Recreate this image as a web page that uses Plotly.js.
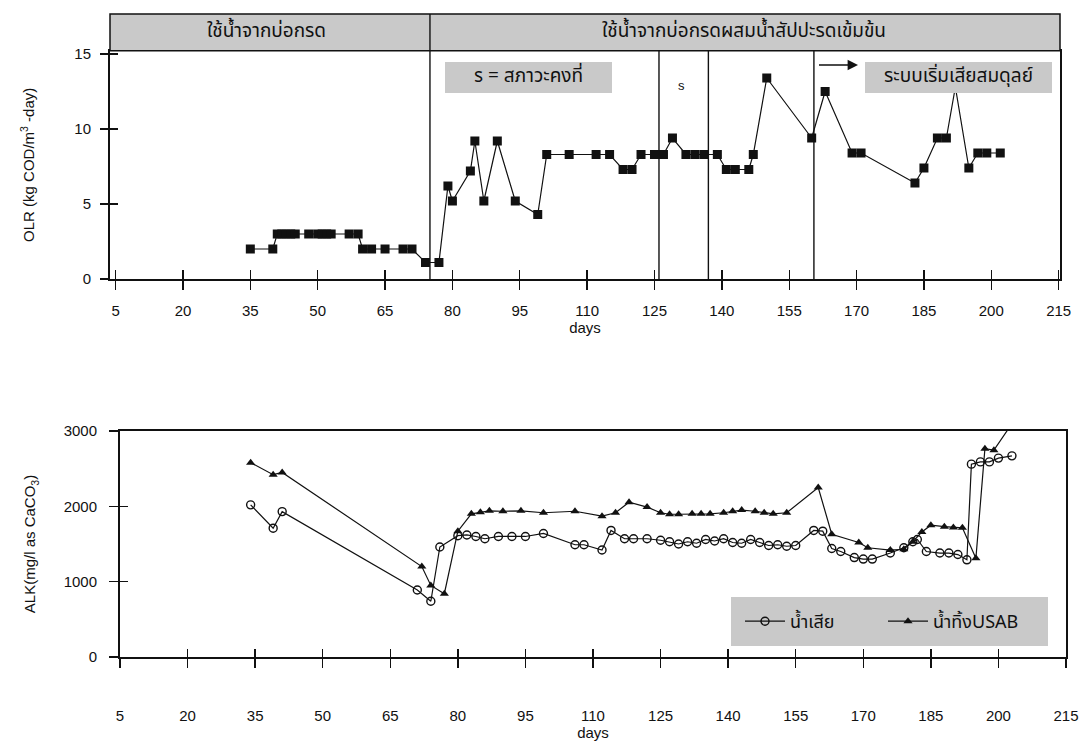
<!DOCTYPE html>
<html>
<head>
<meta charset="utf-8">
<script src="https://cdn.plot.ly/plotly-3.0.1.min.js"></script>
<style>
  html, body { margin: 0; padding: 0; background: #ffffff; overflow: hidden; }
  #chart { width: 1086px; height: 742px; }
</style>
</head>
<body>
<div id="chart"></div>
<script>
// ---- data ----
const dayTicks = [5, 20, 35, 50, 65, 80, 95, 110, 125, 140, 155, 170, 185, 200, 215];

// organic loading rate, kg COD/m3-day
const olrDays = [35, 40, 41, 42, 43, 44, 45, 48, 50, 51, 52, 53, 57, 59,
  60, 62, 65, 69, 71, 74, 77, 79, 80, 84, 85, 87, 90, 94, 99, 101,
  106, 112, 115, 118, 120, 122, 125, 127, 129, 132, 134, 136, 139, 141, 143, 146, 147,
  150, 160, 163, 169, 171, 183, 185, 188, 190, 192, 195, 197, 199, 202];
const olrValues = [2.0, 2.0, 3.0, 3.0, 3.0, 3.0, 3.0, 3.0, 3.0, 3.0, 3.0, 3.0, 3.0, 3.0,
  2.0, 2.0, 2.0, 2.0, 2.0, 1.1, 1.1, 6.2, 5.2, 7.2, 9.2, 5.2, 9.2, 5.2, 4.3, 8.3,
  8.3, 8.3, 8.3, 7.3, 7.3, 8.3, 8.3, 8.3, 9.4, 8.3, 8.3, 8.3, 8.3, 7.3, 7.3, 7.3, 8.3,
  13.4, 9.4, 12.5, 8.4, 8.4, 6.4, 7.4, 9.4, 9.4, 12.8, 7.4, 8.4, 8.4, 8.4];

// alkalinity, mg/l as CaCO3 — raw wastewater
const wasteDays = [34, 39, 41, 71, 74, 76, 80, 82, 84, 86, 89, 92, 95, 99,
  106, 108, 112, 114, 117, 119, 122, 125, 127, 129, 131, 133, 135, 137, 139, 141, 143,
  145, 147, 149, 151, 153, 155, 159, 161, 163, 165, 168, 170, 172,
  176, 179, 181, 182, 184, 187, 189, 191, 193, 194, 196, 198, 200, 203];
const wasteAlk = [2020, 1710, 1930, 890, 740, 1460, 1610, 1620, 1600, 1570, 1600, 1600, 1600, 1640,
  1490, 1490, 1420, 1680, 1570, 1570, 1570, 1550, 1530, 1500, 1530, 1510, 1560, 1540, 1570, 1520, 1510,
  1560, 1520, 1480, 1490, 1470, 1480, 1680, 1670, 1440, 1400, 1320, 1300, 1300,
  1380, 1450, 1530, 1560, 1400, 1380, 1380, 1360, 1290, 2560, 2590, 2590, 2640, 2670];

// alkalinity — UASB effluent
const usabDays = [34, 39, 41, 72, 74, 77, 80, 83, 85, 87, 90, 94, 99, 106, 112, 115, 118, 122,
  125, 127, 129, 132, 134, 136, 139, 141, 143, 146, 148, 150, 153, 160, 163, 169, 171,
  176, 179, 181, 183, 185, 188, 190, 192, 195, 197, 199, 202];
const usabAlk = [2580, 2420, 2450, 1200, 950, 840, 1670, 1900, 1920, 1940, 1935, 1940, 1915, 1935, 1870, 1915, 2055, 1990,
  1915, 1895, 1895, 1900, 1900, 1900, 1915, 1935, 1950, 1935, 1915, 1900, 1915, 2250, 1630, 1520, 1450,
  1420, 1430, 1530, 1660, 1750, 1730, 1720, 1715, 1310, 2765, 2745, 3010];

// operating periods
const phaseDays = [75, 126, 137, 160.5];
const headerLabels = ['ใช้น้ำจากบ่อกรด', 'ใช้น้ำจากบ่อกรดผสมน้ำสัปปะรดเข้มข้น'];
const steadyLabel = 's = สภาวะคงที่';
const steadyMark = 's';
const upsetLabel = 'ระบบเริ่มเสียสมดุลย์';
const seriesNames = ['น้ำเสีย', 'น้ำทิ้งUSAB'];

// ---- layout helpers (page pixels -> paper fractions) ----
const W = 1086, H = 742;
const px = v => v / W;
const py = v => 1 - v / H;

const ink = '#111111';
const shade = '#c9c9c9';
const latin = 'Liberation Sans, Arial, sans-serif';
const thai = 'Noto Sans Thai, Loma, Garuda, Norasi, Tahoma, DejaVu Sans, sans-serif';
const tickFont = { family: latin, size: 15, color: ink };

const traces = [
  { x: olrDays, y: olrValues, xaxis: 'x', yaxis: 'y', type: 'scatter', mode: 'lines+markers',
    line: { color: ink, width: 1.2 }, marker: { symbol: 'square', size: 9, color: ink },
    showlegend: false, hoverinfo: 'x+y' },
  { x: wasteDays, y: wasteAlk, xaxis: 'x2', yaxis: 'y2', type: 'scatter', mode: 'lines+markers',
    name: seriesNames[0], line: { color: ink, width: 1.2 },
    marker: { symbol: 'circle-open', size: 8, color: ink, line: { width: 1.4, color: ink } } },
  { x: usabDays, y: usabAlk, xaxis: 'x2', yaxis: 'y2', type: 'scatter', mode: 'lines+markers',
    name: seriesNames[1], line: { color: ink, width: 1.2 }, cliponaxis: false,
    marker: { symbol: 'triangle-up', size: 8, color: ink } },
  // carriers for the inner half of the crossing tick marks
  { x: [null], y: [null], xaxis: 'x3', yaxis: 'y3', showlegend: false, hoverinfo: 'skip' },
  { x: [null], y: [null], xaxis: 'x4', yaxis: 'y4', showlegend: false, hoverinfo: 'skip' }
];

const topX = [3.75, 215.3];
const topY = [0, 15.22];
const botX = [5, 215];
const botY = [0, 3000];

function mainX(domain, range, anchor, labelGap) {
  return {
    domain, range, anchor, tickmode: 'array', tickvals: dayTicks, ticktext: dayTicks.map(String),
    ticks: 'outside', ticklen: 9, tickwidth: 1.4, tickcolor: ink,
    showline: true, linewidth: 2, linecolor: ink, mirror: true,
    showgrid: false, zeroline: false, tickfont: tickFont, ticklabelstandoff: labelGap,
    title: { text: 'days', font: { family: latin, size: 15, color: ink }, standoff: 2 }
  };
}
function innerTicks(overlay, range, anchor, vals, len) {
  return {
    overlaying: overlay, anchor, range, tickmode: 'array', tickvals: vals,
    ticks: 'inside', ticklen: len, tickwidth: 1.4, tickcolor: ink,
    showticklabels: false, showline: false, showgrid: false, zeroline: false
  };
}
function label(x, y, text, font) {
  return { xref: 'paper', yref: 'paper', x: px(x), y: py(y), xanchor: 'center', yanchor: 'middle',
    text, showarrow: false, font };
}
const thaiFont = size => ({ family: thai, size, color: ink });

const layout = {
  width: W, height: H,
  margin: { l: 0, r: 0, t: 0, b: 0 },
  paper_bgcolor: '#ffffff', plot_bgcolor: 'rgba(0,0,0,0)',
  font: { family: latin, color: ink },
  xaxis: mainX([px(110), px(1060)], topX, 'y', 8),
  yaxis: {
    domain: [py(279), py(50.7)], range: topY, anchor: 'x', tickvals: [0, 5, 10, 15],
    ticks: 'outside', ticklen: 8, tickwidth: 1.4, tickcolor: ink,
    showline: true, linewidth: 2, linecolor: ink, mirror: true,
    showgrid: false, zeroline: false, tickfont: tickFont, ticklabelstandoff: 6,
    title: { text: 'OLR (kg COD/m<sup>3</sup> -day)', font: { family: latin, size: 15, color: ink }, standoff: 36 }
  },
  xaxis2: mainX([px(120), px(1066)], botX, 'y2', 35),
  yaxis2: {
    domain: [py(657), py(431)], range: botY, anchor: 'x2', tickvals: [0, 1000, 2000, 3000],
    ticks: 'outside', ticklen: 9, tickwidth: 1.4, tickcolor: ink,
    showline: true, linewidth: 2, linecolor: ink, mirror: true,
    showgrid: false, zeroline: false, tickfont: tickFont, ticklabelstandoff: 9,
    title: { text: 'ALK(mg/l as CaCO<sub>3</sub>)', font: { family: latin, size: 15, color: ink }, standoff: 24 }
  },
  xaxis3: innerTicks('x', topX, 'y', dayTicks, 9),
  yaxis3: Object.assign(innerTicks('y', topY, 'x', [0, 5, 10, 15], 8), { side: 'left' }),
  xaxis4: innerTicks('x2', botX, 'y2', dayTicks, 8),
  yaxis4: Object.assign(innerTicks('y2', botY, 'x2', [0, 1000, 2000, 3000], 8), { side: 'left' }),
  showlegend: true,
  legend: {
    orientation: 'h', x: px(740), y: py(621.5), xanchor: 'left', yanchor: 'middle',
    bgcolor: 'rgba(0,0,0,0)', borderwidth: 0,
    font: thaiFont(18), itemwidth: 40, entrywidth: 88, entrywidthmode: 'pixels'
  },
  shapes: [
    // header band above the loading-rate panel
    { type: 'rect', xref: 'x domain', yref: 'y domain', x0: 0, x1: 1, y0: 1, y1: 1.161,
      fillcolor: shade, line: { color: ink, width: 1.5 }, layer: 'above' },
    // period boundaries
    ...phaseDays.map((d, i) => ({
      type: 'line', xref: 'x', yref: 'y domain', x0: d, x1: d, y0: 0, y1: i === 0 ? 1.161 : 1,
      line: { color: ink, width: 1.4 }, layer: 'above'
    })),
    // label boxes
    { type: 'rect', xref: 'paper', yref: 'paper', x0: px(445), x1: px(612), y0: py(93), y1: py(62),
      fillcolor: shade, line: { width: 0 }, layer: 'above' },
    { type: 'rect', xref: 'paper', yref: 'paper', x0: px(865), x1: px(1052), y0: py(93), y1: py(62),
      fillcolor: shade, line: { width: 0 }, layer: 'above' },
    // legend panel
    { type: 'rect', xref: 'paper', yref: 'paper', x0: px(731), x1: px(1048), y0: py(646), y1: py(597),
      fillcolor: shade, line: { width: 0 }, layer: 'above' }
  ],
  annotations: [
    label(266, 32, headerLabels[0], thaiFont(19)),
    label(744, 32, headerLabels[1], thaiFont(19)),
    label(528, 77, steadyLabel, thaiFont(19)),
    label(681, 85, steadyMark, { family: latin, size: 13, color: ink }),
    label(958, 77, upsetLabel, thaiFont(19)),
    { xref: 'paper', yref: 'paper', x: px(858), y: py(65), ax: -42, ay: 0, text: ' ',
      showarrow: true, arrowhead: 2, arrowsize: 1.3, arrowwidth: 1.6, arrowcolor: ink }
  ]
};

Plotly.newPlot('chart', traces, layout, { displayModeBar: false, staticPlot: true });
</script>
</body>
</html>
